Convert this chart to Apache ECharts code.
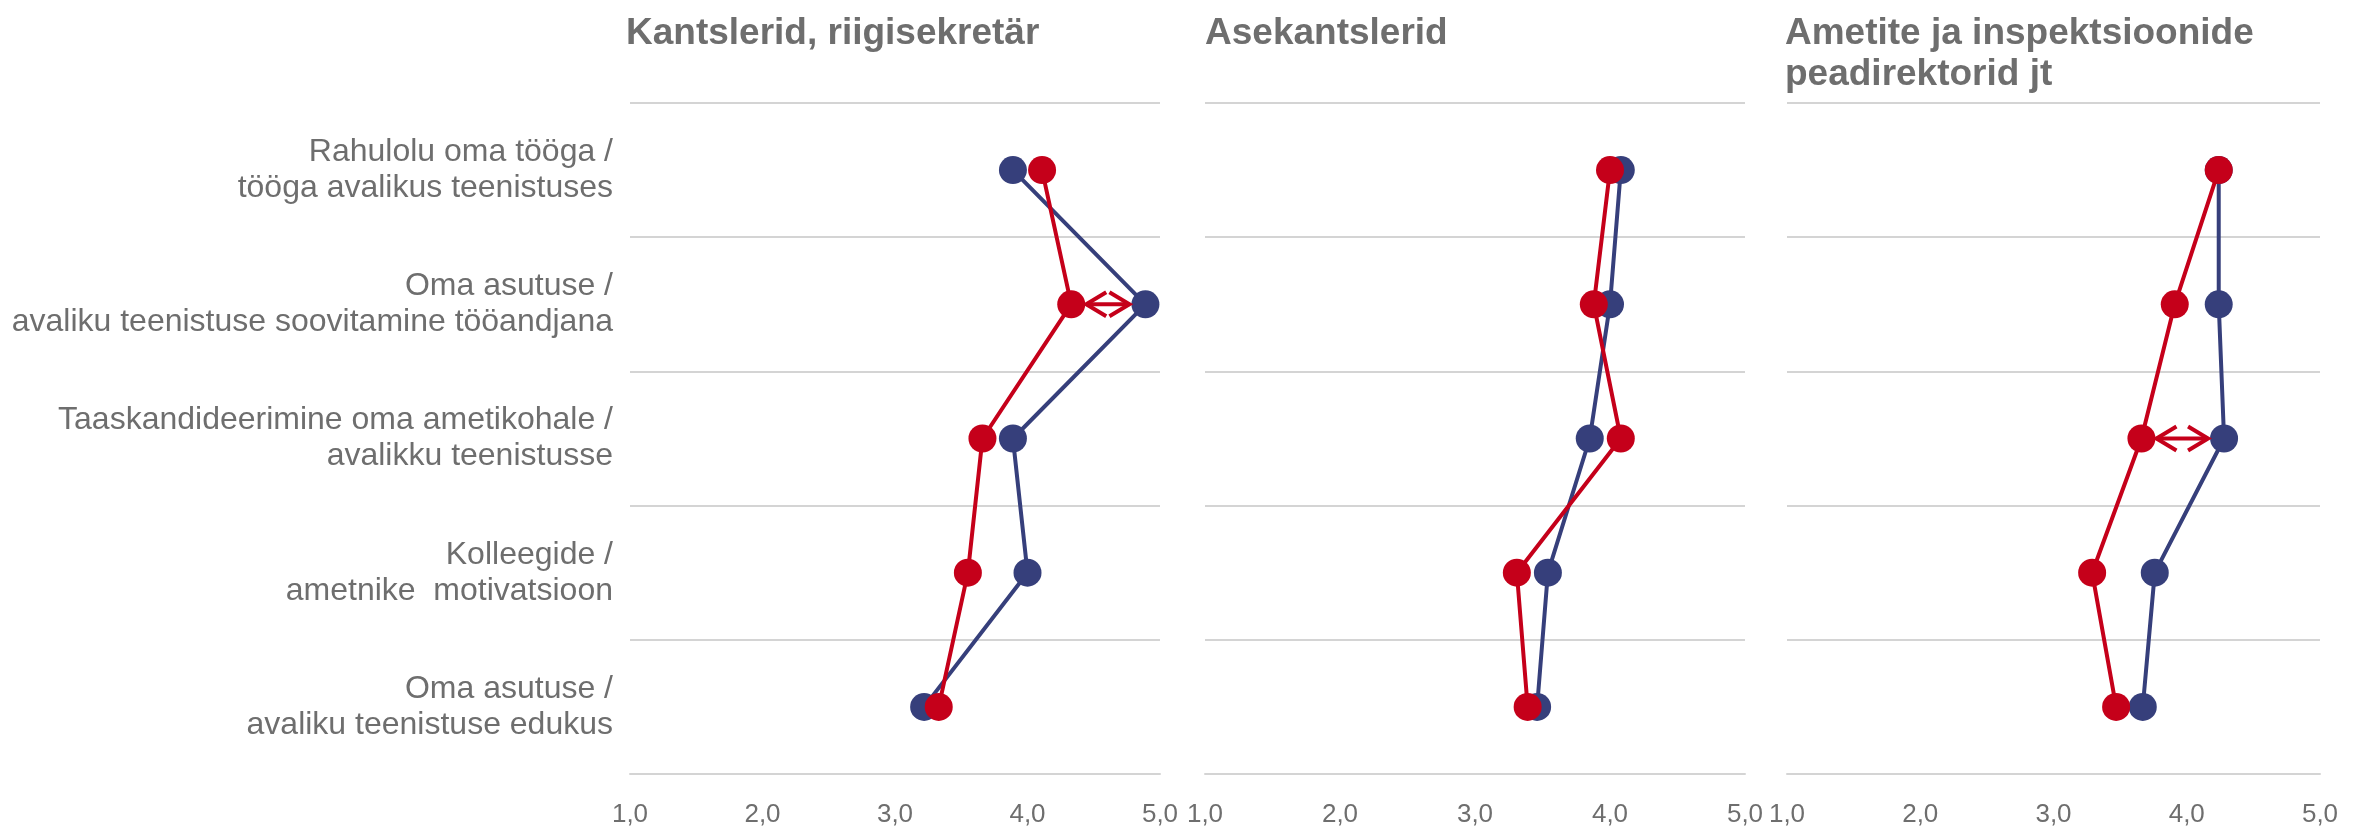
<!DOCTYPE html>
<html>
<head>
<meta charset="utf-8">
<script src="https://cdn.jsdelivr.net/npm/echarts@6/dist/echarts.min.js"></script>
<style>
  html, body { margin: 0; padding: 0; background: #ffffff; }
  #chart { width: 2371px; height: 828px; }
</style>
</head>
<body>
<div id="chart"></div>
<script>
// Survey statements (rows, top to bottom)
const categories = [
  'Rahulolu oma tööga /\ntööga avalikus teenistuses',
  'Oma asutuse /\navaliku teenistuse soovitamine tööandjana',
  'Taaskandideerimine oma ametikohale /\navalikku teenistusse',
  'Kolleegide /\nametnike  motivatsioon',
  'Oma asutuse /\navaliku teenistuse edukus'
];

// Panel headings
const panelTitles = [
  'Kantslerid, riigisekretär',
  'Asekantslerid',
  'Ametite ja inspektsioonide\npeadirektorid jt'
];

// Average scores on a 1–5 scale, per panel
const blueKantslerid = [3.89, 4.89, 3.89, 4.00, 3.22];
const redKantslerid  = [4.11, 4.33, 3.66, 3.55, 3.33];
const blueAsekantslerid = [4.08, 4.00, 3.85, 3.54, 3.46];
const redAsekantslerid  = [4.00, 3.88, 4.08, 3.31, 3.39];
const blueAmetid = [4.24, 4.24, 4.28, 3.76, 3.67];
const redAmetid  = [4.24, 3.91, 3.66, 3.29, 3.47];

// Row index of the highlighted gap in each panel (null = none)
const arrowRows = [1, null, 2];

// Scale ticks
const scaleMin = 1;
const scaleMax = 5;
const scaleStep = 1;

const BLUE = '#363F7B';
const RED = '#C5001A';
const TEXT = '#6E6E6E';
const GRID_LINE = '#D4D4D4';
const FONT = '"Liberation Sans", Arial, sans-serif';

const blueSets = [blueKantslerid, blueAsekantslerid, blueAmetid];
const redSets = [redKantslerid, redAsekantslerid, redAmetid];

const gridBoxes = [
  { left: 630, width: 530 },
  { left: 1205, width: 540 },
  { left: 1787, width: 533 }
];
const titleLefts = [626, 1205, 1785];

const grids = [], xAxes = [], yAxes = [], series = [], titles = [];

gridBoxes.forEach((g, i) => {
  grids.push({ left: g.left, width: g.width, top: 103, height: 677, containLabel: false });

  titles.push({
    text: panelTitles[i],
    left: titleLefts[i],
    top: 13,
    padding: 0,
    textStyle: {
      fontFamily: FONT, fontSize: 37, fontWeight: 'bold',
      color: TEXT, lineHeight: 41
    }
  });

  xAxes.push({
    type: 'value', gridIndex: i,
    min: scaleMin, max: scaleMax, interval: scaleStep,
    axisLine: { show: true, lineStyle: { color: GRID_LINE, width: 2 } },
    axisTick: { show: false },
    splitLine: { show: false },
    axisLabel: {
      show: true, margin: 28, showMinLabel: true, showMaxLabel: true,
      fontFamily: FONT, fontSize: 26, color: TEXT,
      formatter: v => v.toFixed(1).replace('.', ',')
    }
  });

  yAxes.push({
    type: 'category', gridIndex: i, data: categories, inverse: true,
    boundaryGap: true,
    axisLine: { show: false },
    axisTick: { show: false },
    splitLine: { show: true, lineStyle: { color: GRID_LINE, width: 2 } },
    axisLabel: {
      show: i === 0, margin: 17, align: 'right',
      fontFamily: FONT, fontSize: 32, lineHeight: 36, color: TEXT,
      padding: [7, 0, 0, 0]
    }
  });

  series.push({
    type: 'line', xAxisIndex: i, yAxisIndex: i,
    data: blueSets[i],
    symbol: 'circle', symbolSize: 28, showAllSymbol: true,
    lineStyle: { color: BLUE, width: 4 },
    itemStyle: { color: BLUE },
    z: 2
  });
  series.push({
    type: 'line', xAxisIndex: i, yAxisIndex: i,
    data: redSets[i],
    symbol: 'circle', symbolSize: 28, showAllSymbol: true,
    lineStyle: { color: RED, width: 4 },
    itemStyle: { color: RED },
    z: 3
  });

  const r = arrowRows[i];
  if (r !== null) {
    series.push({
      type: 'custom', xAxisIndex: i, yAxisIndex: i,
      data: [[redSets[i][r], blueSets[i][r], r]],
      encode: { x: [0, 1], y: 2 },
      clip: false, z: 4, silent: true,
      renderItem: function (params, api) {
        const cat = api.value(2);
        const a = api.coord([api.value(0), cat]);
        const b = api.coord([api.value(1), cat]);
        const dir = b[0] > a[0] ? 1 : -1;
        const y = a[1];
        const x1 = a[0] + dir * 15;
        const x2 = b[0] - dir * 16;
        const L = 20, H = 12;
        const st = { stroke: RED, lineWidth: 4, fill: null, lineJoin: 'miter' };
        return {
          type: 'group',
          children: [
            { type: 'line', shape: { x1: x1, y1: y, x2: x2, y2: y }, style: st },
            { type: 'polyline', shape: { points: [[x1 + dir * L, y - H], [x1, y], [x1 + dir * L, y + H]] }, style: st },
            { type: 'polyline', shape: { points: [[x2 - dir * L, y - H], [x2, y], [x2 - dir * L, y + H]] }, style: st }
          ]
        };
      }
    });
  }
});

const chart = echarts.init(document.getElementById('chart'), null, { renderer: 'canvas' });
chart.setOption({
  animation: false,
  backgroundColor: '#ffffff',
  title: titles,
  grid: grids,
  xAxis: xAxes,
  yAxis: yAxes,
  series: series
});
</script>
</body>
</html>
